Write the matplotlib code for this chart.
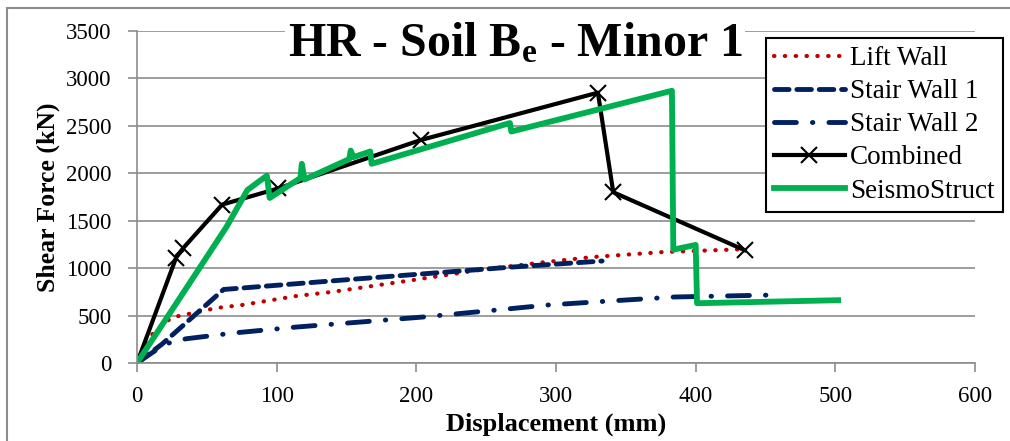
import numpy as np
import matplotlib
matplotlib.use('Agg')
import matplotlib.pyplot as plt
from matplotlib.patches import Rectangle

plt.rcParams['font.family'] = ['Liberation Serif', 'DejaVu Serif']
plt.rcParams['mathtext.fontset'] = 'custom'
plt.rcParams['mathtext.rm'] = 'Liberation Serif:bold'
plt.rcParams['mathtext.it'] = 'Liberation Serif:bold'

# data (displacement mm, shear force kN)
lift_x = [0, 12, 25, 57, 75, 114, 140, 200, 245, 290, 326, 377, 435]
lift_y = [0, 330, 480, 580, 611, 706, 750, 880, 980, 1060, 1117, 1170, 1200]

sw1_x = [0, 18, 62, 152, 267, 333]
sw1_y = [0, 200, 775, 880, 1010, 1075]

sw2_x = [0, 20, 35, 69, 114, 160, 205, 250, 294, 340, 385, 453, 460]
sw2_y = [0, 200, 255, 316, 379, 432, 485, 548, 611, 655, 696, 716, 718]

comb_x = [0, 28, 33, 61, 101, 203, 330, 341, 435]
comb_y = [0, 1110, 1210, 1670, 1840, 2350, 2850, 1800, 1190]

seis_x = [0, 30, 64, 79, 93, 95, 117, 118, 120, 152, 153, 155, 167, 168,
          267, 268, 383, 384, 400, 401, 502]
seis_y = [0, 670, 1433, 1823, 1975, 1740, 1950, 2100, 1935, 2150, 2240, 2170,
          2230, 2100, 2530, 2440, 2870, 1195, 1245, 630, 662]

xticks = [0, 100, 200, 300, 400, 500, 600]
yticks = [0, 500, 1000, 1500, 2000, 2500, 3000, 3500]

grey = '#8c8c8c'

fig = plt.figure(figsize=(10.1, 4.41), dpi=100)
ax = fig.add_axes([137/1010, 1-363/441, (975-137)/1010, (363-31)/441])

ax.plot(lift_x, lift_y, color='#c00000', lw=3, linestyle=(0, (0.1, 2.5)),
        dash_capstyle='round', label='Lift Wall')
ax.plot(sw1_x, sw1_y, color='#002060', lw=3.5, linestyle=(0, (3.0, 1.6)),
        dash_capstyle='round', label='Stair Wall 1')
ax.plot(sw2_x, sw2_y, color='#002060', lw=3.5,
        linestyle=(0, (4.5, 3.3, 0.1, 3.3)),
        dash_capstyle='round', label='Stair Wall 2')
ax.plot(comb_x, comb_y, color='black', lw=3, marker='x', ms=12, mew=1.5,
        label='Combined')
ax.plot(seis_x, seis_y, color='#00b050', lw=4.2, label='SeismoStruct')

ax.set_xlim(0, 600)
ax.set_ylim(0, 3500)
ax.set_xticks(xticks)
ax.set_yticks(yticks)
ax.grid(axis='y', color=grey, lw=1.2)
ax.set_axisbelow(True)
for s in ['top', 'right']:
    ax.spines[s].set_visible(False)
for s in ['left', 'bottom']:
    ax.spines[s].set_color(grey)
    ax.spines[s].set_linewidth(1.2)
ax.tick_params(axis='both', color=grey, width=1.2, length=6.5, labelsize=16.5)
ax.tick_params(axis='y', pad=12)
ax.tick_params(axis='x', pad=10)

ax.set_xlabel('Displacement (mm)', fontsize=19, fontweight='bold', labelpad=4)
ax.set_ylabel('Shear Force (kN)', fontsize=18.5, fontweight='bold', labelpad=4)

fig.text(515/1010, 1-44/441, r'HR - Soil B$_\mathrm{e}$ - Minor 1',
         fontsize=34.5, fontweight='bold', ha='center', va='center',
         bbox=dict(facecolor='white', edgecolor='none', pad=2))

leg = fig.legend(loc='upper left', bbox_to_anchor=(766/1010, 1-38/441),
                 fontsize=19.5, fancybox=False, framealpha=1, edgecolor='black',
                 handlelength=2.6, labelspacing=0.3, borderpad=0.3,
                 handletextpad=0.2, borderaxespad=0)
leg.get_frame().set_linewidth(1.5)

# outer chart frame (only left and top edges show)
fig.patches.append(Rectangle((7/1010, -0.2), 1.2, 1.2 - 8/441,
                             transform=fig.transFigure, fill=False,
                             edgecolor=grey, lw=1.5))

fig.savefig('out.png', dpi=100)
